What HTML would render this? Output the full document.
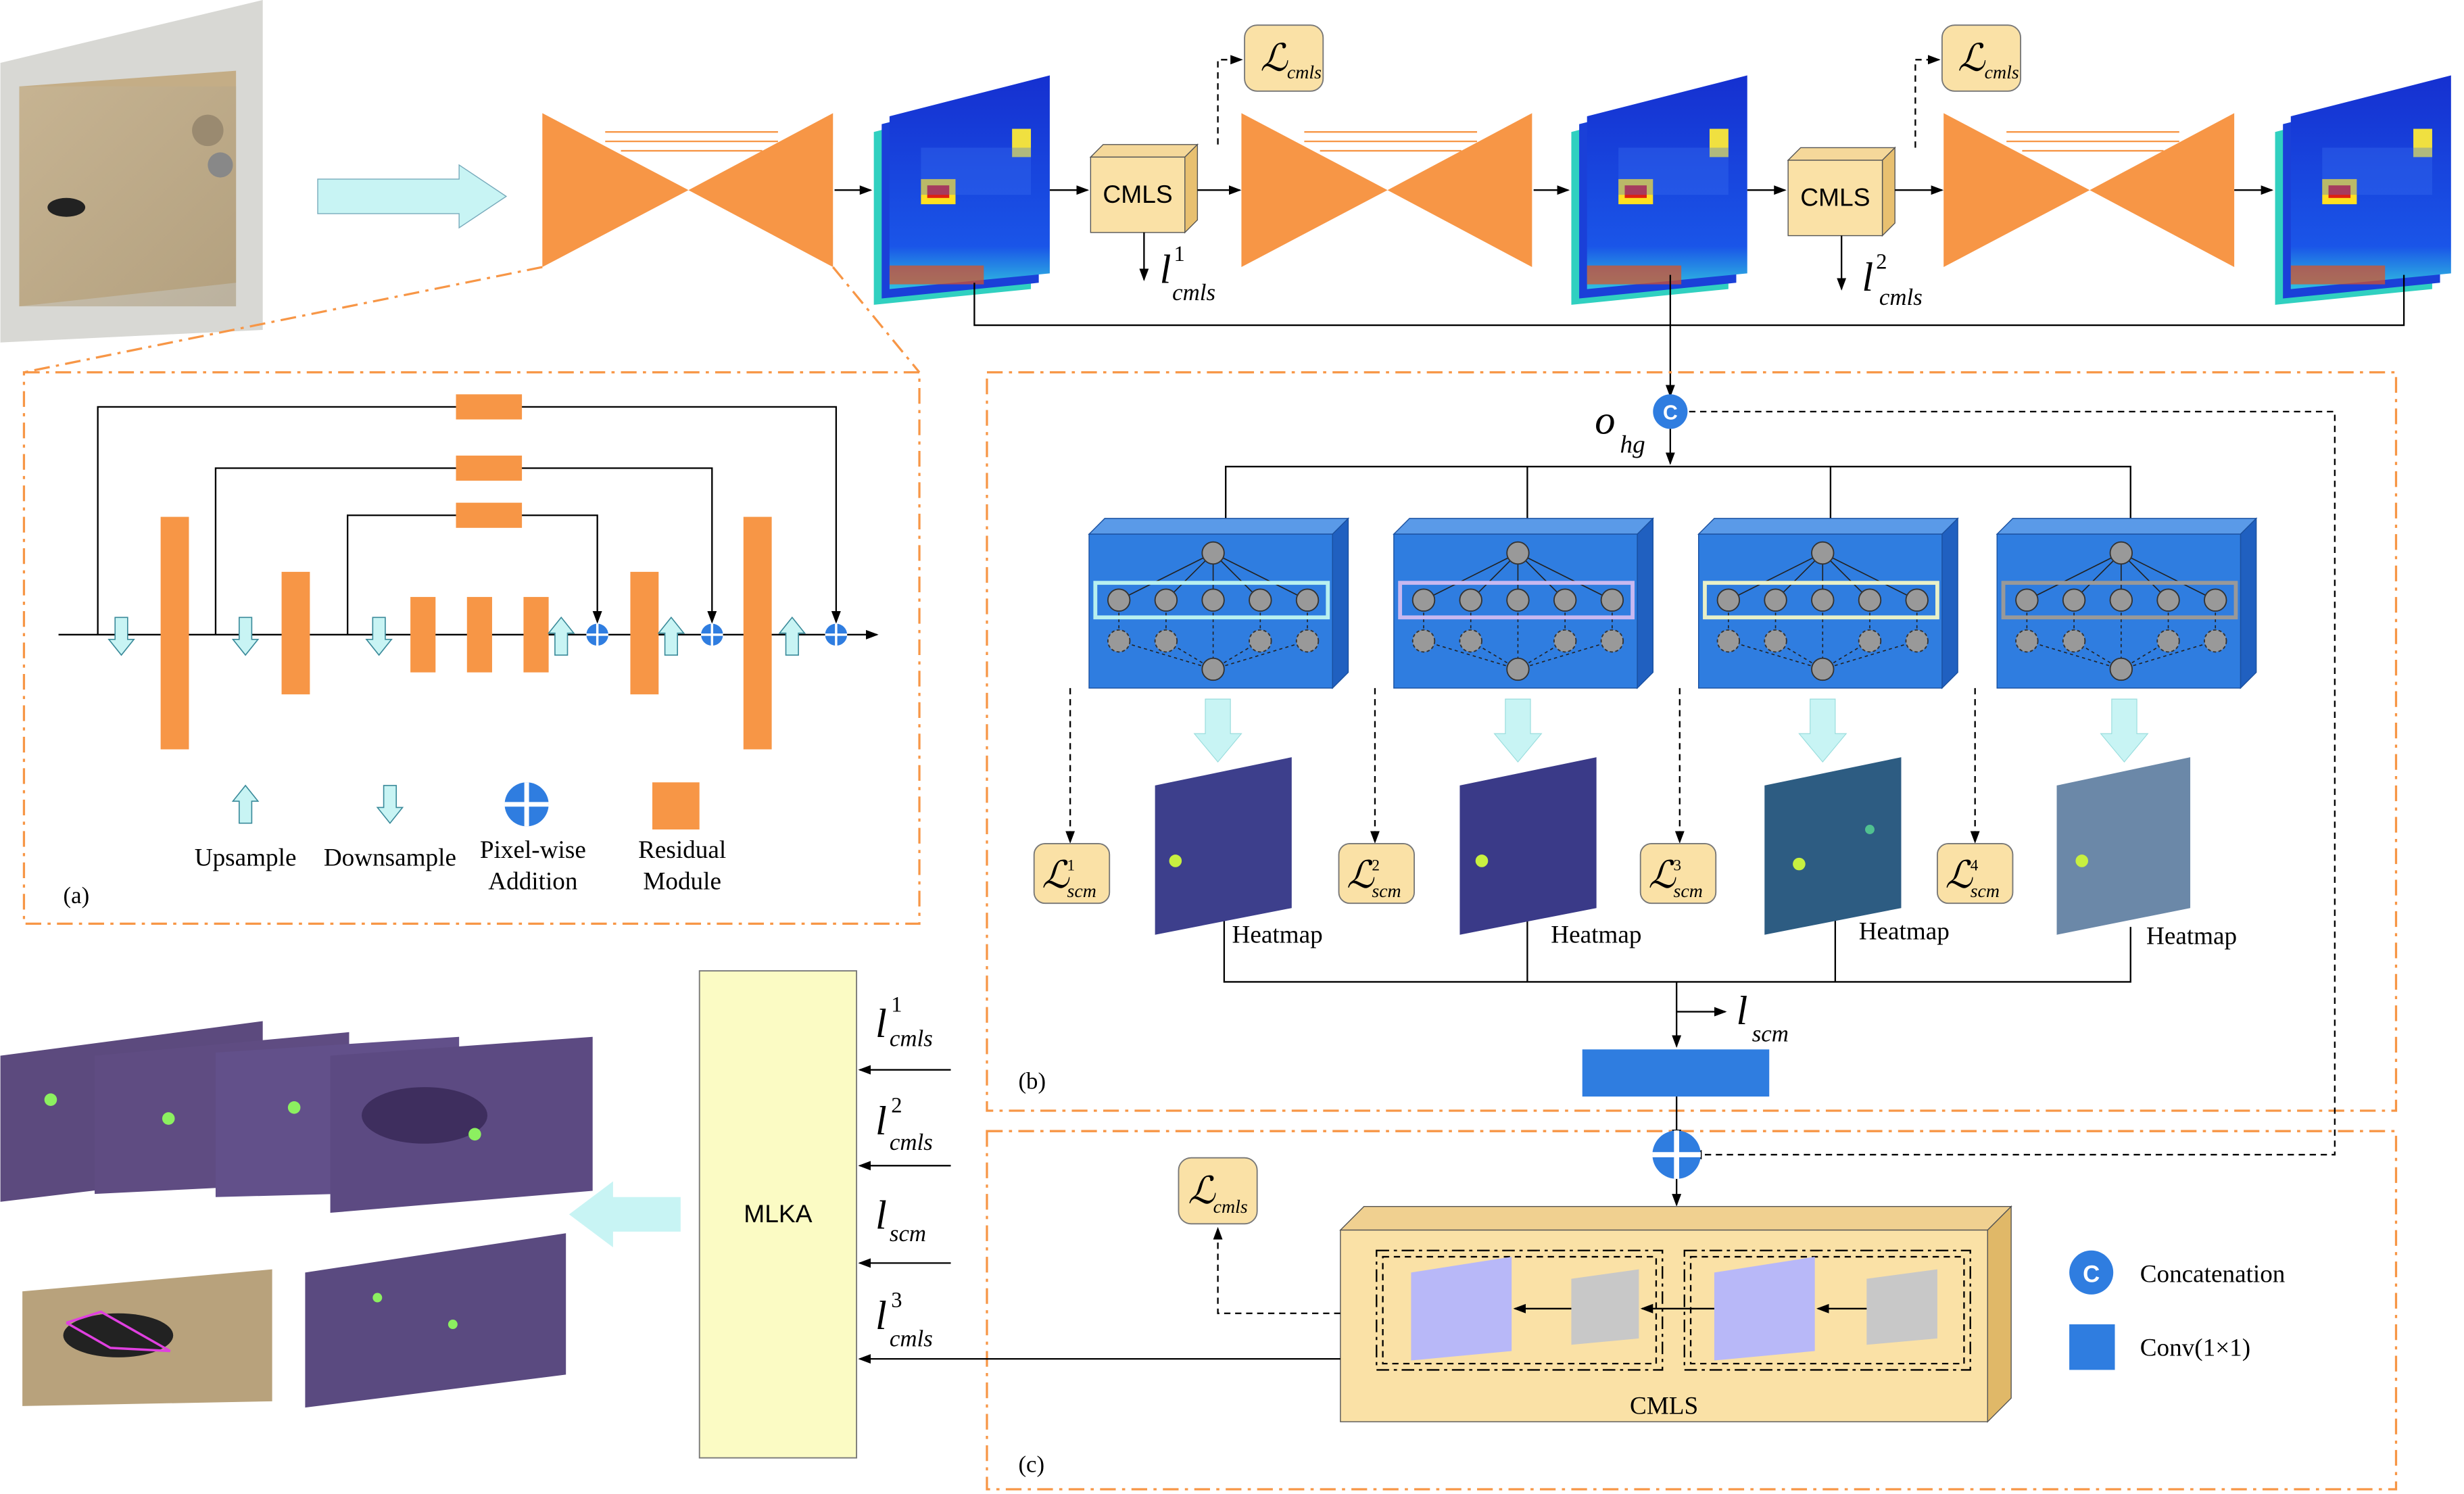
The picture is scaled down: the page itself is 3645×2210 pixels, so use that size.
<!DOCTYPE html>
<html><head><meta charset="utf-8"><style>html,body{margin:0;padding:0;background:#fff}svg{display:block}</style></head><body>
<svg width="3645" height="2210" viewBox="0 0 1568 951" xmlns="http://www.w3.org/2000/svg" font-family="Liberation Serif, serif">
<defs>
<marker id="ar" markerWidth="8" markerHeight="8" refX="7" refY="4" orient="auto" markerUnits="userSpaceOnUse"><path d="M0,1 L8,4 L0,7 z" fill="#000"/></marker>
<linearGradient id="hm" x1="0" y1="0" x2="0" y2="1"><stop offset="0" stop-color="#1530d0"/><stop offset="0.8" stop-color="#1a55e8"/><stop offset="1" stop-color="#30c0e0"/></linearGradient>
<linearGradient id="mo" x1="0" y1="0" x2="1" y2="1"><stop offset="0" stop-color="#c8b89a"/><stop offset="1" stop-color="#a8987a"/></linearGradient>
<g id="hg"><polygon points="0,0 0,98 93,49" fill="#F79646"/><polygon points="185,0 185,98 93,49" fill="#F79646"/><g stroke="#F79646" stroke-width="1"><line x1="40" y1="12" x2="150" y2="12"/><line x1="40" y1="18" x2="150" y2="18"/><line x1="50" y1="24" x2="140" y2="24"/></g></g>
<g id="hmap"><polygon points="0,30 100,4 100,130 0,140" fill="#30d0c0"/><polygon points="5,25 105,0 105,126 5,136" fill="#1a40d8"/><polygon points="10,20 112,-6 112,120 10,130" fill="url(#hm)"/><rect x="30" y="60" width="22" height="16" fill="#ffe020"/><rect x="34" y="64" width="14" height="8" fill="#e02010"/><rect x="88" y="28" width="12" height="18" fill="#f0e040"/><rect x="30" y="40" width="70" height="30" fill="#3a70f0" opacity="0.35"/><rect x="10" y="115" width="60" height="12" fill="#e05020" opacity="0.7"/></g>
<g id="cmls"><polygon points="0,8 8,0 68,0 60,8" fill="#f5d89a" stroke="#555" stroke-width="0.6"/><polygon points="60,8 68,0 68,48 60,56" fill="#e8c070" stroke="#555" stroke-width="0.6"/><rect x="0" y="8" width="60" height="48" fill="#fae1a6" stroke="#555" stroke-width="0.6"/><text x="30" y="37" font-family="Liberation Sans, sans-serif" font-size="16" text-anchor="middle">CMLS</text></g>
<g id="lc"><rect x="0" y="0" width="50" height="42" rx="8" fill="#fae1a6" stroke="#777" stroke-width="0.8"/><text x="10" y="29" font-size="24" font-style="italic">ℒ</text><text x="27" y="34" font-size="12" font-style="italic">cmls</text></g>
<g id="cube"><polygon points="0,10 10,0 165,0 155,10" fill="#5a9ae8" stroke="#1a50a0" stroke-width="0.6"/><polygon points="155,10 165,0 165,98 155,108" fill="#2060c0" stroke="#1a50a0" stroke-width="0.6"/><rect x="0" y="10" width="155" height="98" fill="#2f7de0" stroke="#1a50a0" stroke-width="0.6"/>
<g stroke="#222" stroke-width="0.7"><line x1="79" y1="22" x2="19" y2="52"/><line x1="79" y1="22" x2="49" y2="52"/><line x1="79" y1="22" x2="79" y2="52"/><line x1="79" y1="22" x2="109" y2="52"/><line x1="79" y1="22" x2="139" y2="52"/></g>
<g stroke="#222" stroke-width="0.7" stroke-dasharray="2 2"><line x1="79" y1="96" x2="19" y2="78"/><line x1="79" y1="96" x2="49" y2="78"/><line x1="79" y1="96" x2="109" y2="78"/><line x1="79" y1="96" x2="139" y2="78"/><line x1="19" y1="52" x2="19" y2="78"/><line x1="49" y1="52" x2="49" y2="78"/><line x1="109" y1="52" x2="109" y2="78"/><line x1="139" y1="52" x2="139" y2="78"/><line x1="79" y1="52" x2="79" y2="96"/></g>
<g fill="#999" stroke="#333" stroke-width="0.8"><circle cx="79" cy="22" r="7"/><circle cx="19" cy="52" r="7"/><circle cx="49" cy="52" r="7"/><circle cx="79" cy="52" r="7"/><circle cx="109" cy="52" r="7"/><circle cx="139" cy="52" r="7"/><circle cx="79" cy="96" r="7"/></g>
<g fill="#999" stroke="#333" stroke-width="0.8" stroke-dasharray="2 1.5"><circle cx="19" cy="78" r="7"/><circle cx="49" cy="78" r="7"/><circle cx="109" cy="78" r="7"/><circle cx="139" cy="78" r="7"/></g></g>
<g id="dn"><polygon points="-4,0 4,0 4,14 8,14 0,24 -8,14 -4,14" fill="#c8f4f4" stroke="#3a8a9a" stroke-width="0.7"/></g>
<g id="up"><polygon points="-4,24 4,24 4,10 8,10 0,0 -8,10 -4,10" fill="#c8f4f4" stroke="#3a8a9a" stroke-width="0.7"/></g>
<g id="pl"><circle r="7" fill="#2f7de0"/><line x1="-7" y1="0" x2="7" y2="0" stroke="#fff" stroke-width="1.5"/><line x1="0" y1="-7" x2="0" y2="7" stroke="#fff" stroke-width="1.5"/></g>
<g id="bar"><polygon points="-20,-8 2,-8 2,-15 20,0 2,15 2,8 -20,8" fill="#c8f4f4" stroke="#9dd" stroke-width="0.5"/></g>
</defs>

<polygon points="0,40 167,0 167,210 0,218" fill="#d8d8d4"/>
<polygon points="12,55 150,45 150,180 12,195" fill="#c4ad86"/>
<rect x="12" y="55" width="138" height="140" fill="url(#mo)" opacity="0.6"/>
<ellipse cx="42" cy="132" rx="12" ry="6" fill="#222"/>
<circle cx="140" cy="105" r="8" fill="#888"/><circle cx="132" cy="83" r="10" fill="#9a8a70"/>

<polygon points="202,114 292,114 292,105 322,125 292,145 292,136 202,136" fill="#c8f4f4" stroke="#7ab" stroke-width="0.6"/>

<use href="#hg" x="345" y="72"/>
<use href="#hg" x="790" y="72"/>
<use href="#hg" x="1237" y="72"/>
<use href="#hmap" x="556" y="54"/>
<use href="#hmap" x="1000" y="54"/>
<use href="#hmap" x="1448" y="54"/>
<use href="#cmls" x="694" y="92"/>
<use href="#cmls" x="1138" y="94"/>
<use href="#lc" x="792" y="16"/>
<use href="#lc" x="1236" y="16"/>

<g stroke="#000" stroke-width="1" fill="none">
<line x1="531" y1="121" x2="554" y2="121" marker-end="url(#ar)"/>
<line x1="668" y1="121" x2="692" y2="121" marker-end="url(#ar)"/>
<line x1="762" y1="121" x2="789" y2="121" marker-end="url(#ar)"/>
<line x1="976" y1="121" x2="998" y2="121" marker-end="url(#ar)"/>
<line x1="1112" y1="121" x2="1136" y2="121" marker-end="url(#ar)"/>
<line x1="1206" y1="121" x2="1236" y2="121" marker-end="url(#ar)"/>
<line x1="1422" y1="121" x2="1446" y2="121" marker-end="url(#ar)"/>
<polyline points="775,92 775,38 790,38" stroke-dasharray="4 3" marker-end="url(#ar)"/>
<polyline points="1219,94 1219,38 1234,38" stroke-dasharray="4 3" marker-end="url(#ar)"/>
<line x1="728" y1="148" x2="728" y2="178" marker-end="url(#ar)"/>
<line x1="1172" y1="150" x2="1172" y2="184" marker-end="url(#ar)"/>
<polyline points="620,180 620,207 1530,207 1530,175"/>
<line x1="1063" y1="175" x2="1063" y2="252" marker-end="url(#ar)"/>
</g>
<text x="738" y="180" font-size="26" font-style="italic">l</text><text x="747" y="166" font-size="14">1</text><text x="746" y="191" font-size="15" font-style="italic">cmls</text>
<text x="1185" y="185" font-size="26" font-style="italic">l</text><text x="1194" y="171" font-size="14">2</text><text x="1196" y="194" font-size="15" font-style="italic">cmls</text>

<g stroke="#F79646" stroke-width="1.4" fill="none" stroke-dasharray="10 4 2 4">
<line x1="345" y1="170" x2="15" y2="237"/><line x1="530" y1="170" x2="585" y2="237"/>
<rect x="15" y="237" width="570" height="351"/>
<rect x="628" y="237" width="897" height="470"/>
<rect x="628" y="720" width="897" height="228"/>
</g>

<g stroke="#000" stroke-width="1" fill="none">
<line x1="37" y1="404" x2="558" y2="404" marker-end="url(#ar)"/>
<polyline points="62,404 62,259 532,259 532,396" marker-end="url(#ar)"/>
<polyline points="137,404 137,298 453,298 453,396" marker-end="url(#ar)"/>
<polyline points="221,404 221,328 380,328 380,396" marker-end="url(#ar)"/>
</g>
<g fill="#F79646"><rect x="290" y="251" width="42" height="16"/><rect x="290" y="290" width="42" height="16"/><rect x="290" y="320" width="42" height="16"/>
<rect x="102" y="329" width="18" height="148"/><rect x="179" y="364" width="18" height="78"/><rect x="261" y="380" width="16" height="48"/><rect x="297" y="380" width="16" height="48"/><rect x="333" y="380" width="16" height="48"/><rect x="401" y="364" width="18" height="78"/><rect x="473" y="329" width="18" height="148"/></g>
<use href="#dn" x="77" y="393"/><use href="#dn" x="156" y="393"/><use href="#dn" x="241" y="393"/>
<use href="#up" x="357" y="393"/><use href="#up" x="427" y="393"/><use href="#up" x="504" y="393"/>
<use href="#pl" x="380" y="404"/><use href="#pl" x="453" y="404"/><use href="#pl" x="532" y="404"/>
<use href="#up" x="156" y="500"/><use href="#dn" x="248" y="500"/>
<g transform="translate(335,512) scale(2)"><use href="#pl"/></g>
<rect x="415" y="498" width="30" height="30" fill="#F79646"/>
<g font-size="16" text-anchor="middle"><text x="156" y="551">Upsample</text><text x="248" y="551">Downsample</text><text x="339" y="546">Pixel-wise</text><text x="339" y="566">Addition</text><text x="434" y="546">Residual</text><text x="434" y="566">Module</text></g>
<text x="40" y="575" font-size="15">(a)</text>

<circle cx="1063" cy="262" r="11" fill="#2f7de0"/><text x="1063" y="267" font-size="13" font-weight="bold" fill="#fff" text-anchor="middle" font-family="Liberation Sans, sans-serif">C</text>
<text x="1015" y="276" font-size="26" font-style="italic">o</text><text x="1031" y="288" font-size="16" font-style="italic">hg</text>
<g stroke="#000" stroke-width="1" fill="none">
<line x1="1063" y1="273" x2="1063" y2="295" marker-end="url(#ar)"/>
<polyline points="780,330 780,297 1356,297 1356,330"/>
<line x1="972" y1="297" x2="972" y2="330"/><line x1="1165" y1="297" x2="1165" y2="330"/>
<polyline points="1075,262 1486,262 1486,735 1076,735" stroke-dasharray="4 3" marker-end="url(#ar)"/>
<polyline points="779,560 779,625 1356,625 1356,590"/>
<line x1="972" y1="560" x2="972" y2="625"/><line x1="1168" y1="560" x2="1168" y2="625"/>
<line x1="1067" y1="625" x2="1067" y2="666" marker-end="url(#ar)"/>
<line x1="1067" y1="644" x2="1098" y2="644" marker-end="url(#ar)"/>
<line x1="1067" y1="698" x2="1067" y2="726" marker-end="url(#ar)"/>
<line x1="1067" y1="744" x2="1067" y2="767" marker-end="url(#ar)"/>
<g stroke-dasharray="4 3"><polyline points="681,438 681,536" marker-end="url(#ar)"/><polyline points="875,438 875,536" marker-end="url(#ar)"/><polyline points="1069,438 1069,536" marker-end="url(#ar)"/><polyline points="1257,438 1257,536" marker-end="url(#ar)"/></g>
</g>
<use href="#cube" x="693" y="330"/><use href="#cube" x="887" y="330"/><use href="#cube" x="1081" y="330"/><use href="#cube" x="1271" y="330"/>
<g fill="none" stroke-width="2.5"><rect x="697" y="371" width="148" height="22" stroke="#b8f0f0"/><rect x="891" y="371" width="148" height="22" stroke="#c8b8f0"/><rect x="1085" y="371" width="148" height="22" stroke="#e8f0c8"/><rect x="1275" y="371" width="148" height="22" stroke="#999"/></g>
<g transform="rotate(90)"><use href="#bar" x="465" y="-775"/><use href="#bar" x="465" y="-966"/><use href="#bar" x="465" y="-1160"/><use href="#bar" x="465" y="-1352"/></g>
<polygon points="735,500 822,482 822,578 735,595" fill="#3d3f8c"/><circle cx="748" cy="548" r="4" fill="#c8f040"/>
<polygon points="929,500 1016,482 1016,578 929,595" fill="#3a3a88"/><circle cx="943" cy="548" r="4" fill="#c8f040"/>
<polygon points="1123,500 1210,482 1210,578 1123,595" fill="#2d5c82"/><circle cx="1145" cy="550" r="4" fill="#c8f040"/><circle cx="1190" cy="528" r="3" fill="#50c090"/>
<polygon points="1309,500 1394,482 1394,578 1309,595" fill="#6b88a8"/><circle cx="1325" cy="548" r="4" fill="#c8f040"/>
<g font-size="16"><text x="784" y="600">Heatmap</text><text x="987" y="600">Heatmap</text><text x="1183" y="598">Heatmap</text><text x="1366" y="601">Heatmap</text></g>
<g><rect x="658" y="537" width="48" height="38" rx="7" fill="#fae1a6" stroke="#777" stroke-width="0.8"/><text x="663" y="565" font-size="24" font-style="italic">ℒ</text><text x="679" y="554" font-size="10">1</text><text x="679" y="571" font-size="12" font-style="italic">scm</text></g>
<g><rect x="852" y="537" width="48" height="38" rx="7" fill="#fae1a6" stroke="#777" stroke-width="0.8"/><text x="857" y="565" font-size="24" font-style="italic">ℒ</text><text x="873" y="554" font-size="10">2</text><text x="873" y="571" font-size="12" font-style="italic">scm</text></g>
<g><rect x="1044" y="537" width="48" height="38" rx="7" fill="#fae1a6" stroke="#777" stroke-width="0.8"/><text x="1049" y="565" font-size="24" font-style="italic">ℒ</text><text x="1065" y="554" font-size="10">3</text><text x="1065" y="571" font-size="12" font-style="italic">scm</text></g>
<g><rect x="1233" y="537" width="48" height="38" rx="7" fill="#fae1a6" stroke="#777" stroke-width="0.8"/><text x="1238" y="565" font-size="24" font-style="italic">ℒ</text><text x="1254" y="554" font-size="10">4</text><text x="1254" y="571" font-size="12" font-style="italic">scm</text></g>
<text x="1105" y="652" font-size="26" font-style="italic">l</text><text x="1115" y="663" font-size="15" font-style="italic">scm</text>
<rect x="1007" y="668" width="119" height="30" fill="#2f7de0"/>
<text x="648" y="693" font-size="15">(b)</text>

<g transform="translate(1067,735) scale(2.2)"><use href="#pl"/></g>
<polygon points="853,783 868,768 1280,768 1265,783" fill="#f0d090" stroke="#555" stroke-width="0.6"/>
<polygon points="1265,783 1280,768 1280,890 1265,905" fill="#e0b868" stroke="#555" stroke-width="0.6"/>
<rect x="853" y="783" width="412" height="122" fill="#fae1a6" stroke="#555" stroke-width="0.6"/>
<g fill="none" stroke="#000" stroke-width="1" stroke-dasharray="8 3 2 3"><rect x="876" y="796" width="182" height="76"/><rect x="1072" y="796" width="182" height="76"/><rect x="880" y="800" width="174" height="68" stroke-dasharray="4 3"/><rect x="1076" y="800" width="174" height="68" stroke-dasharray="4 3"/></g>
<polygon points="898,810 962,800 962,860 898,866" fill="#b8b8f8"/><polygon points="1000,814 1043,808 1043,852 1000,856" fill="#c8c8c8"/>
<polygon points="1091,810 1155,800 1155,860 1091,866" fill="#b8b8f8"/><polygon points="1188,814 1233,808 1233,852 1188,856" fill="#c8c8c8"/>
<g stroke="#000" stroke-width="1" fill="none"><line x1="1000" y1="833" x2="964" y2="833" marker-end="url(#ar)"/><line x1="1188" y1="833" x2="1157" y2="833" marker-end="url(#ar)"/><line x1="1091" y1="833" x2="1045" y2="833" marker-end="url(#ar)"/>
<polyline points="853,836 775,836 775,782" stroke-dasharray="4 3" marker-end="url(#ar)"/>
<line x1="853" y1="865" x2="547" y2="865" marker-end="url(#ar)"/></g>
<text x="1059" y="900" font-size="16" text-anchor="middle">CMLS</text>
<g><rect x="750" y="737" width="50" height="42" rx="8" fill="#fae1a6" stroke="#777" stroke-width="0.8"/><text x="756" y="766" font-size="24" font-style="italic">ℒ</text><text x="772" y="772" font-size="12" font-style="italic">cmls</text></g>
<circle cx="1331" cy="810" r="14" fill="#2f7de0"/><text x="1331" y="816" font-size="15" font-weight="bold" fill="#fff" text-anchor="middle" font-family="Liberation Sans, sans-serif">C</text>
<text x="1362" y="816" font-size="16">Concatenation</text>
<rect x="1317" y="843" width="29" height="29" fill="#2f7de0"/><text x="1362" y="863" font-size="16">Conv(1×1)</text>
<text x="648" y="937" font-size="15">(c)</text>

<rect x="445" y="618" width="100" height="310" fill="#fbfbc4" stroke="#777" stroke-width="0.8"/>
<text x="495" y="778" font-size="16" text-anchor="middle" font-family="Liberation Sans, sans-serif">MLKA</text>
<g stroke="#000" stroke-width="1"><line x1="605" y1="681" x2="547" y2="681" marker-end="url(#ar)"/><line x1="605" y1="742" x2="547" y2="742" marker-end="url(#ar)"/><line x1="605" y1="804" x2="547" y2="804" marker-end="url(#ar)"/></g>
<g font-style="italic"><text x="557" y="660" font-size="26">l</text><text x="567" y="644" font-size="14" font-style="normal">1</text><text x="566" y="666" font-size="15">cmls</text>
<text x="557" y="722" font-size="26">l</text><text x="567" y="708" font-size="14" font-style="normal">2</text><text x="566" y="732" font-size="15">cmls</text>
<text x="557" y="782" font-size="26">l</text><text x="566" y="790" font-size="15">scm</text>
<text x="557" y="846" font-size="26">l</text><text x="567" y="832" font-size="14" font-style="normal">3</text><text x="566" y="857" font-size="15">cmls</text></g>
<polygon points="433,762 390,762 390,752 362,773 390,794 390,784 433,784" fill="#c8f4f4"/>

<polygon points="0,672 167,650 167,745 0,765" fill="#5c4a7e"/>
<polygon points="60,672 222,657 222,752 60,760" fill="#5f4c82"/>
<polygon points="137,670 292,660 292,758 137,762" fill="#62508a"/>
<polygon points="210,672 377,660 377,758 210,772" fill="#5c4a82"/>
<ellipse cx="270" cy="710" rx="40" ry="18" fill="#3e2e5e"/>
<g fill="#8cf060"><circle cx="32" cy="700" r="4"/><circle cx="107" cy="712" r="4"/><circle cx="187" cy="705" r="4"/><circle cx="302" cy="722" r="4"/></g>
<polygon points="14,822 173,808 173,892 14,895" fill="#b8a27c"/>
<ellipse cx="75" cy="850" rx="35" ry="14" fill="#222"/>
<polyline points="42,842 64,835 108,860 70,858 42,842" fill="none" stroke="#e040e0" stroke-width="1.5"/>
<polygon points="194,810 360,785 360,875 194,896" fill="#5a4a80"/>
<g fill="#8cf060"><circle cx="240" cy="826" r="3"/><circle cx="288" cy="843" r="3"/></g>
</svg>
</body></html>
